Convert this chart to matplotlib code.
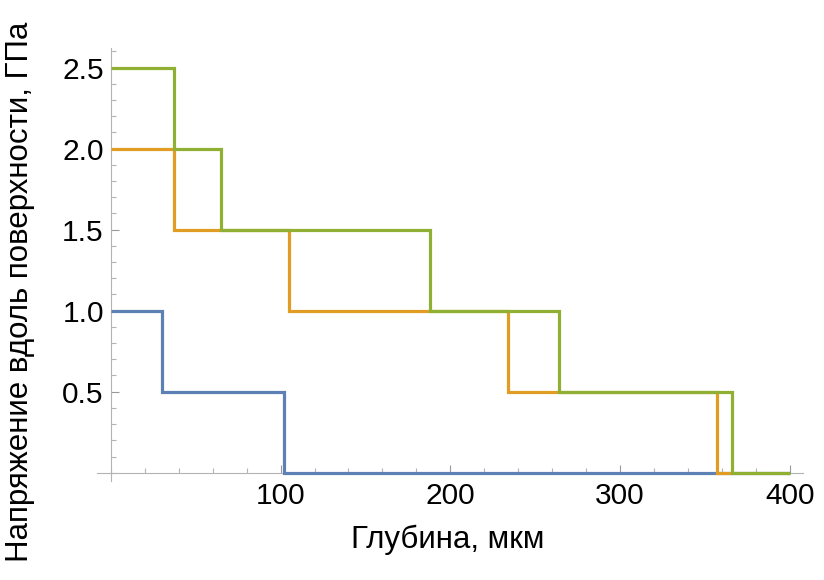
import matplotlib.pyplot as plt
from matplotlib.ticker import MultipleLocator, FixedLocator

plt.rcParams['font.family'] = ['Liberation Sans', 'DejaVu Sans']

# step profiles: edges along depth (мкм) and stress levels (ГПа)
blue_edges = [0, 30, 102, 400]
blue_vals = [1.0, 0.5, 0.0]
orange_edges = [0, 37, 105, 234, 357, 366]
orange_vals = [2.0, 1.5, 1.0, 0.5, 0.0]
green_edges = [0, 37, 65, 188, 264, 366, 400]
green_vals = [2.5, 2.0, 1.5, 1.0, 0.5, 0.0]

x_ticks = [100, 200, 300, 400]
y_ticks = [0.5, 1.0, 1.5, 2.0, 2.5]

fig = plt.figure(figsize=(8.24, 5.8), dpi=100)
ax = fig.add_axes([0.118, 0.171, 0.857, 0.746])

ax.stairs(blue_vals, blue_edges, baseline=None, color="#5E81B5", lw=2.3, zorder=3)
ax.stairs(orange_vals, orange_edges, baseline=None, color="#E19C24", lw=2.3, zorder=4)
ax.stairs(green_vals, green_edges, baseline=None, color="#8FB032", lw=2.3, zorder=5)

ax.set_xlim(-8, 408)
ax.set_ylim(-0.05, 2.62)

for s in ["top", "right"]:
    ax.spines[s].set_visible(False)
for s in ["left", "bottom"]:
    ax.spines[s].set_position(("data", 0))
    ax.spines[s].set_color("#b3b3b3")
    ax.spines[s].set_linewidth(0.8)

ax.xaxis.set_major_locator(FixedLocator(x_ticks))
ax.xaxis.set_minor_locator(MultipleLocator(20))
ax.yaxis.set_major_locator(FixedLocator(y_ticks))
ax.yaxis.set_minor_locator(MultipleLocator(0.1))
ax.set_xticklabels([str(v) for v in x_ticks])
ax.set_yticklabels([f"{v:.1f}" for v in y_ticks])

ax.tick_params(which="major", direction="in", length=6, width=0.8, color="#999999",
               labelsize=21.5, pad=7)
ax.tick_params(axis="y", which="major", pad=5)
ax.tick_params(which="minor", direction="in", length=3.5, width=0.8, color="#b3b3b3")

fig.text(0.543, 0.069, "Глубина, мкм", ha="center", va="center", fontsize=22.5)
fig.text(0.024, 0.497, "Напряжение вдоль поверхности, ГПа", ha="center", va="center",
         rotation=90, fontsize=22.5)

fig.savefig("out.png", dpi=100)
